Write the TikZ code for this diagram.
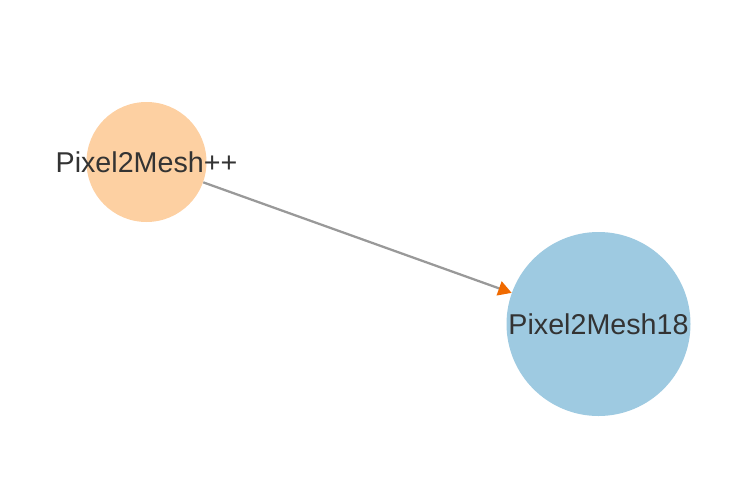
\documentclass[tikz,border=0pt]{standalone}
\usepackage{fontspec}
\setmainfont{Liberation Sans}
\usetikzlibrary{arrows.meta}
\definecolor{txt}{HTML}{333333}
\definecolor{orangefill}{HTML}{FDD0A2}
\definecolor{bluefill}{HTML}{9ECAE1}
\definecolor{edgegrey}{HTML}{999999}
\definecolor{tiporange}{HTML}{F06A00}
\begin{document}
\begin{tikzpicture}[x=0.75pt,y=-0.75pt,
  vertex/.style={circle,inner sep=0pt},
  lbl/.style={text=txt,font=\fontsize{21.5}{25}\selectfont},
  link/.style={draw=edgegrey,line width=1.7pt,-{Triangle[length=10pt,width=11pt,color=tiporange]}}]
\useasboundingbox (0,0) rectangle (742,482);
\node[vertex,fill=orangefill,minimum size=90pt] (a) at (146.5,162) {};
\node[vertex,fill=bluefill,minimum size=138pt] (b) at (598.5,324) {};
\node[lbl] (la) at (a.center) {Pixel2Mesh++};
\node[lbl] (lb) at (b.center) {Pixel2Mesh18};
\draw[link] (a) -- (b);
\end{tikzpicture}
\end{document}
